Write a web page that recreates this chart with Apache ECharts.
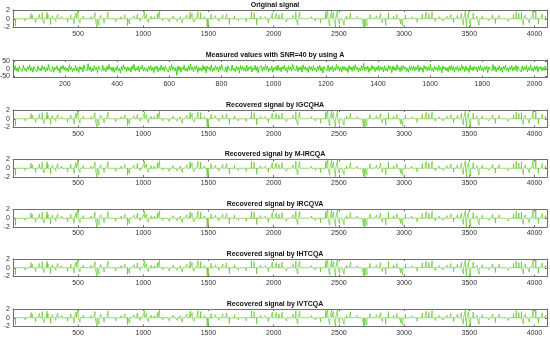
<!DOCTYPE html>
<html><head><meta charset="utf-8">
<script src="https://cdn.jsdelivr.net/npm/echarts@6/dist/echarts.min.js"></script>
<style>html,body{margin:0;padding:0;background:#fff}#c{width:550px;height:338px}</style>
</head><body><div id="c"></div>
<script>
// ---- data ----
const titles = [
  "Original signal",
  "Measured values with SNR=40 by using A",
  "Recovered signal by IGCQHA",
  "Recovered signal by M-IRCQA",
  "Recovered signal by IRCQVA",
  "Recovered signal by IHTCQA",
  "Recovered signal by IVTCQA"
];
const signalLength = 4096;
const measLength = 2048;
const signalXTicks = [500,1000,1500,2000,2500,3000,3500,4000];
const measXTicks = [200,400,600,800,1000,1200,1400,1600,1800,2000];
const signalYTicks = [-2,0,2];
const measYTicks = [-50,0,50];

const spikeIdx = [20,60,95,140,150,175,205,225,240,262,270,290,305,330,345,375,390,420,445,470,485,500,515,
 540,570,600,630,645,660,675,700,730,770,790,830,860,880,895,930,955,975,
 1010,1025,1040,1060,1085,1110,1125,1150,1170,1200,1230,1260,1285,1300,1335,1360,1375,1390,1420,1440,1470,1490,1500,
 1520,1555,1580,1610,1640,1660,1700,1730,1760,1790,1830,1850,1870,1900,1935,1960,1990,
 2020,2040,2065,2100,2150,2170,2185,2200,2250,2290,2320,2360,2400,2415,2430,2445,2460,2475,2490,2505,
 2540,2560,2590,2640,2690,2700,2715,2740,2790,2820,2835,2860,2880,2920,2945,2975,2990,
 3010,3060,3100,3140,3170,3190,3215,3240,3270,3300,3330,3360,3380,3410,3440,3455,3470,3480,3495,3510,
 3530,3560,3575,3600,3650,3680,3700,3730,3770,3800,3840,3860,3880,3900,3915,3930,3960,3990,4010,4030,4060,4085];
const spikeVal = [-1.6,0.4,-0.5,1.2,0.8,-0.9,1.0,1.4,-1.1,1.5,0.9,-1.3,0.7,-0.6,1.0,0.5,-0.4,-0.8,0.9,-1.2,1.3,2.0,-1.0,
 0.6,-0.4,0.5,1.4,-2.0,-1.5,0.8,-1.0,1.5,0.4,-0.7,0.5,0.9,-1.6,-1.2,0.7,1.1,-0.6,
 1.6,1.0,-0.9,0.6,0.5,1.2,1.7,-0.5,0.4,-0.7,0.6,-0.6,0.5,-1.0,0.8,1.5,1.2,-0.8,1.6,1.4,0.5,-2.0,-1.8,
 1.0,0.7,-0.6,0.9,1.1,-1.3,0.7,-0.5,0.4,-0.7,1.6,1.4,-1.4,0.6,0.5,-0.9,1.3,
 1.2,0.9,1.3,-0.7,0.8,1.6,-1.4,1.5,0.4,0.5,-0.5,-1.0,1.6,1.9,-1.6,1.8,1.4,-1.9,2.0,-1.2,
 -1.5,0.6,1.3,0.5,-1.8,-2.0,-1.6,1.0,0.7,1.2,-0.9,-1.5,1.4,0.6,1.0,-1.2,-1.6,
 0.9,0.5,-0.8,1.1,1.5,1.2,1.6,-0.6,0.5,-0.5,0.6,1.0,-0.9,0.8,1.2,-1.4,1.7,-2.0,1.4,-1.8,
 1.3,0.6,-1.5,0.7,-0.5,0.9,-1.1,0.8,0.4,-0.6,1.0,1.6,1.2,1.4,-1.4,0.8,-1.0,1.8,2.0,-1.2,1.1,0.6];

// measured values (one value read every 4 samples)
const measStep = 4;
const measValues = [
12,-8,21,-15,6,-22,18,-4,9,-17,25,-11,3,-19,14,-6,27,-13,8,-24,16,-2,11,-20,19,-9,5,-16,23,-7,13,-21,
7,-14,30,-10,2,-18,15,-25,10,-5,20,-12,4,-28,17,-3,24,-9,12,-16,6,-21,28,-8,14,-19,3,-11,22,-15,9,-26,
18,-6,11,-23,26,-4,8,-13,35,-10,15,-20,5,-17,21,-7,12,-27,19,-2,9,-14,24,-12,6,-22,16,-8,29,-5,10,-18,
13,-25,7,-11,22,-16,3,-30,17,-9,27,-4,11,-19,14,-13,8,-24,20,-6,31,-15,5,-10,18,-21,12,-3,25,-17,9,-12,
4,-20,16,-8,23,-14,10,-27,15,-5,19,-22,7,-11,26,-9,13,-18,21,-2,6,-23,17,-12,28,-7,11,-16,8,-45,20,-10,
14,-24,9,-6,25,-15,5,-19,18,-11,32,-8,12,-21,16,-4,22,-26,10,-13,7,-17,24,-9,15,-28,19,-3,11,-14,27,-20,
6,-12,21,-7,13,-23,17,-10,29,-5,8,-18,14,-25,20,-2,10,-15,26,-11,4,-21,18,-8,12,-30,23,-6,16,-13,9,-19,
25,-16,11,-4,19,-22,7,-9,24,-14,15,-27,10,-3,22,-17,13,-10,28,-6,18,-20,5,-12,20,-24,8,-7,17,-15,26,-11,
10,-21,15,-5,23,-13,9,-26,19,-8,12,-17,30,-2,6,-14,21,-19,11,-9,16,-23,27,-4,14,-12,8,-25,20,-6,13,-16,
22,-10,5,-20,18,-7,24,-15,11,-28,16,-3,9,-13,26,-18,12,-8,20,-22,7,-11,29,-5,15,-17,10,-24,19,-9,14,-14,
8,-26,23,-6,13,-19,17,-11,27,-4,11,-21,6,-15,21,-9,38,-16,12,-7,18,-25,9,-12,24,-3,15,-20,10,-10,22,-17,
16,-8,12,-23,20,-13,7,-18,25,-5,14,-27,19,-10,11,-14,28,-6,9,-21,17,-12,23,-2,13,-19,6,-24,21,-8,15,-11,
19,-15,10,-7,26,-20,14,-9,8,-25,22,-4,16,-16,12,-11,30,-13,5,-22,18,-6,11,-17,24,-10,9,-28,20,-3,13,-14,
7,-21,17,-9,23,-12,15,-24,10,-6,21,-18,8,-13,27,-5,14,-20,19,-11,6,-26,25,-8,12,-15,18,-4,11,-23,16,-10,
24,-13,9,-19,15,-7,20,-27,13,-3,10,-16,29,-11,17,-22,8,-9,22,-14,12,-25,18,-6,26,-12,7,-20,14,-5,21,-17,
11,-9,25,-18,16,-4,8,-23,19,-13,13,-7,23,-21,10,-11,27,-15,6,-19,17,-8,20,-24,12,-3,15,-16,9,-12,18,-6
];

// ---- build series data ----
function buildSignal() {
  const arr = new Array(signalLength).fill(0);
  spikeIdx.forEach((p, k) => { arr[p - 1] = spikeVal[k]; });
  return arr.map((v, i) => [i + 1, v]);
}
const signalData = buildSignal();
const measData = measValues.map((v, i) => [1 + i * measStep, v]);

const chart = echarts.init(document.getElementById('c'), null, {renderer: 'canvas'});
const FONT = 'Arial, "Liberation Sans", Helvetica, sans-serif';
const gridTops = [10, 60, 110, 159.5, 209.5, 259, 309];
const gridH = 17.5;
const axisCol = '#6e6e6e';
const lineCol = '#4cbf0c';
const measCol = '#33d100';
const plain = v => String(v);

const grid = [], xAxis = [], yAxis = [], series = [], title = [];
gridTops.forEach((t, i) => {
  const isMeas = i === 1;
  grid.push({left: 13, right: 3, top: t, height: gridH, containLabel: false, outerBoundsMode: 'none'});
  title.push({text: titles[i], left: 'center', top: t - 9, padding: 0,
    textStyle: {fontSize: 7, fontWeight: 'bold', color: '#111', fontFamily: FONT, lineHeight: 8}});
  const xmax = isMeas ? measLength : signalLength;
  const xt = isMeas ? measXTicks : signalXTicks;
  const yt = isMeas ? measYTicks : signalYTicks;
  const ymin = isMeas ? -60 : -2, ymax = isMeas ? 60 : 2;
  const common = {gridIndex: i, type: 'value', min: 1, max: xmax,
    axisLine: {show: true, onZero: false, lineStyle: {color: axisCol, width: 1}},
    splitLine: {show: false}};
  xAxis.push(Object.assign({}, common, {position: 'bottom',
    axisTick: {show: true, inside: true, length: 2, customValues: xt, lineStyle: {color: axisCol}},
    axisLabel: {show: true, customValues: xt, formatter: plain, fontSize: 7, margin: 3, color: '#333', fontFamily: FONT}}));
  xAxis.push(Object.assign({}, common, {position: 'top',
    axisTick: {show: true, inside: true, length: 2, customValues: xt, lineStyle: {color: axisCol}},
    axisLabel: {show: false}}));
  const ycommon = {gridIndex: i, type: 'value', min: ymin, max: ymax,
    axisLine: {show: true, onZero: false, lineStyle: {color: axisCol, width: 1}},
    splitLine: {show: false}};
  yAxis.push(Object.assign({}, ycommon, {position: 'left',
    axisTick: {show: true, inside: true, length: 2, customValues: yt, lineStyle: {color: axisCol}},
    axisLabel: {show: true, customValues: yt, formatter: plain, fontSize: 7, margin: 3, color: '#333', fontFamily: FONT}}));
  yAxis.push(Object.assign({}, ycommon, {position: 'right',
    axisTick: {show: true, inside: true, length: 2, customValues: yt, lineStyle: {color: axisCol}},
    axisLabel: {show: false}}));
  series.push({type: 'line', xAxisIndex: 2 * i, yAxisIndex: 2 * i,
    data: isMeas ? measData : signalData, showSymbol: false, symbol: 'none',
    lineStyle: {color: isMeas ? measCol : lineCol, width: isMeas ? 0.9 : 0.6}, clip: true, silent: true});
});

chart.setOption({animation: false, backgroundColor: '#fff', title, grid, xAxis, yAxis, series});
</script></body></html>
